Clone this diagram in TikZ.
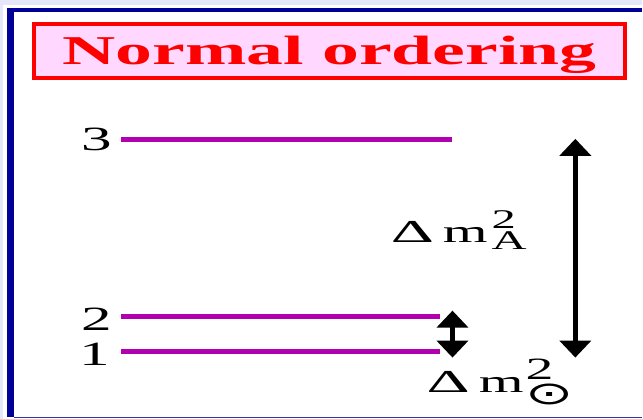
\documentclass[tikz,border=0pt]{standalone}
\usepackage{fontspec}
\setmainfont{Liberation Serif}
\newfontfamily\widefont[FakeStretch=1.8]{Liberation Serif}
\newfontfamily\deltafont[FakeStretch=2.1]{Liberation Serif}
\newfontfamily\widesym[FakeStretch=1.8]{DejaVu Sans}
\usetikzlibrary{arrows.meta,positioning}
\definecolor{slidebg}{RGB}{230,230,250}
\definecolor{frameblue}{RGB}{0,0,150}
\definecolor{lineblue}{RGB}{51,51,170}
\definecolor{titlepink}{RGB}{255,215,255}
\definecolor{levelpurple}{RGB}{176,0,176}
\newcommand{\deltam}{{\fontsize{32}{32}\selectfont\deltafont Δ\hspace{9pt}\widefont m}}

\begin{document}
\begin{tikzpicture}[x=1pt,y=-1pt,
    masslevel/.style={line width=5pt,color=levelpurple},
    levellabel/.style={inner sep=0pt,font=\widefont\fontsize{34}{34}\selectfont},
    splitting/.style={line width=4.5pt,{Triangle[width=31pt,length=17pt]}-{Triangle[width=31pt,length=17pt]}}]
  % slide background and frame
  \fill[slidebg] (0,0) rectangle (643,419);
  \fill[white] (3,5) rectangle (643,419);
  \fill[frameblue] (7,8) rectangle (14,417);
  \fill[frameblue] (7,8) rectangle (643,12);
  \draw[lineblue,line width=1.5pt] (14,418) -- (643,418);
  \node[draw=red,line width=4pt,fill=titlepink,minimum width=592pt,minimum height=54pt,
        text height=27pt,text depth=0pt,text=red,
        font=\widefont\bfseries\fontsize{41}{41}\selectfont] (title) at (330,51) {Normal ordering};
  % mass levels
  \coordinate (l3w) at (121,140); \coordinate (l3e) at (453,140);
  \coordinate (l2w) at (121,317); \coordinate (l2e) at (441,317);
  \coordinate (l1w) at (121,352); \coordinate (l1e) at (441,352);
  \draw[masslevel] (l3w) -- (l3e);
  \draw[masslevel] (l2w) -- (l2e);
  \draw[masslevel] (l1w) -- (l1e);
  \node[levellabel,left=9pt of l3w] (n3) {3};
  \node[levellabel,left=9pt of l2w,yshift=-3pt] (n2) {2};
  \node[levellabel,left=11pt of l1w,yshift=-3pt] (n1) {1};
  % splittings
  \coordinate (solt) at (453,311); \coordinate (solb) at (453,358);
  \coordinate (atmt) at (576,139); \coordinate (atmb) at (576,358);
  \draw[splitting] (solt) -- (solb);
  \draw[splitting] (atmt) -- (atmb);
  \node[anchor=base west,inner sep=0pt] (dmatm) at (391,243)
    {\deltam\widefont\fontsize{27}{27}\selectfont\hspace{4pt}\rlap{\raisebox{14pt}{2}}\raisebox{-7pt}{A}};
  \node[anchor=base west,inner sep=0pt] (dmsol) at (427,393)
    {\deltam\widefont\fontsize{31}{31}\selectfont\hspace{2pt}\rlap{\raisebox{13pt}{2}}\raisebox{-12pt}{\widesym\fontsize{32}{32}\selectfont ⊙}};
\end{tikzpicture}
\end{document}
